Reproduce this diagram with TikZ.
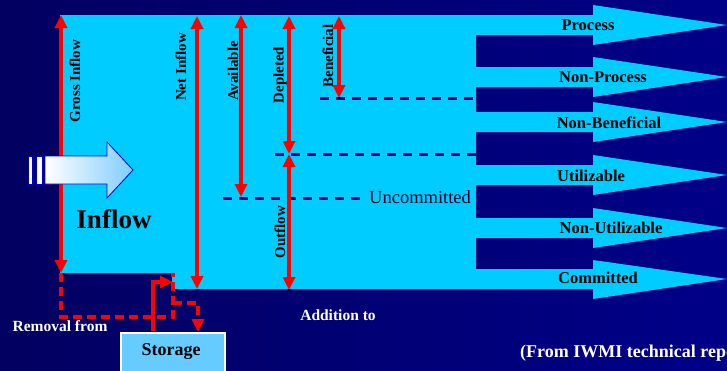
\documentclass[tikz,border=0pt]{standalone}
\usepackage{fontspec}
\setmainfont{Liberation Serif}
\usetikzlibrary{arrows.meta}
\definecolor{bgL}{RGB}{2,0,96}
\definecolor{bgR}{RGB}{0,0,136}
\definecolor{flow}{RGB}{0,204,255}
\definecolor{navyd}{RGB}{0,0,120}
\definecolor{stor}{RGB}{102,204,255}
\definecolor{arrowblue}{RGB}{128,204,255}
\definecolor{redl}{RGB}{255,0,0}
\definecolor{txtnavy}{RGB}{0,0,45}
\begin{document}
\begin{tikzpicture}[x=1pt,y=-1pt,
  tipr/.tip={Triangle[width=12pt,length=13pt]},
  redarr/.style={draw=redl, line width=3.5pt, tipr-tipr},
  redone/.style={draw=redl, line width=3.5pt, -tipr},
  reddash/.style={draw=redl, line width=3.5pt, dash pattern=on 9pt off 5pt},
  navydash/.style={draw=navyd, line width=3pt, dash pattern=on 9pt off 7pt},
  vlab/.style={rotate=90, font=\bfseries\fontsize{15}{15}\selectfont, text=black, inner sep=0pt},
  rlab/.style={font=\bfseries\fontsize{16.5}{17}\selectfont, text=black, inner sep=0pt},
  wlab/.style={font=\bfseries\fontsize{15.5}{16}\selectfont, text=white, inner sep=0pt},
]
\useasboundingbox (0,0) rectangle (727,370);
\clip (0,0) rectangle (727,370);
\fill[left color=bgL, right color=bgR] (0,0) rectangle (727,370);

% main flow shape
\fill[flow] (60,15) -- (593,15) -- (593,5) -- (727,25) -- (593,45) -- (593,35) -- (476,35)
  -- (476,67) -- (593,67) -- (593,57) -- (727,77) -- (593,97) -- (593,87) -- (476,87)
  -- (476,112) -- (593,112) -- (593,102) -- (727,122) -- (593,142) -- (593,132) -- (476,132)
  -- (476,165) -- (593,165) -- (593,155) -- (727,175) -- (593,195) -- (593,185) -- (476,185)
  -- (476,218) -- (593,218) -- (593,208) -- (727,228) -- (593,248) -- (593,238) -- (476,238)
  -- (476,269) -- (593,269) -- (593,260) -- (727,279) -- (593,299) -- (593,289)
  -- (172,289) -- (172,273) -- (60,273) -- cycle;

% coordinates
\coordinate (gT) at (61,15);   \coordinate (gB) at (61,273);
\coordinate (nT) at (197,16);  \coordinate (nB) at (197,289);
\coordinate (aT) at (241,15);  \coordinate (aB) at (241,197);
\coordinate (dT) at (289,16);  \coordinate (dB) at (289,154);
\coordinate (oB) at (289,290);
\coordinate (bT) at (339,16);  \coordinate (bB) at (339,98);
\coordinate (l1a) at (320,98);  \coordinate (l1b) at (476,98);
\coordinate (l2a) at (275,154); \coordinate (l2b) at (476,154);
\coordinate (l3a) at (223,198); \coordinate (l3b) at (360,198);

% navy dashed lines
\draw[navydash] (l1a) -- (l1b);
\draw[navydash] (l2a) -- (l2b);
\draw[navydash] (l3a) -- (l3b);

% storage box
\node[draw=white, line width=2pt, fill=stor, minimum width=104pt, minimum height=46pt, inner sep=0pt, anchor=north west] (storbox) at (120,332) {};
\node[font=\bfseries\fontsize{18}{18}\selectfont, text=black, inner sep=0pt] (storage) at (171,352) {Storage};

% red dimension arrows
\draw[redarr] (gT) -- (gB);
\draw[redarr] (nT) -- (nB);
\draw[redarr] (aT) -- (aB);
\draw[redarr] (dT) -- (dB);
\draw[redarr] (dB) -- (oB);
\draw[redarr] (bT) -- (bB);

% red dashed removal / addition paths
\coordinate (rc1) at (61,317); \coordinate (rc2) at (173,317); \coordinate (rc3) at (173,273);
\coordinate (ac1) at (173,303); \coordinate (ac2) at (198,303); \coordinate (ac3) at (198,332);
\draw[reddash] (gB) -- (rc1) -- (rc2) -- (rc3);
\draw[reddash, -tipr] (ac1) -- (ac2) -- (ac3);
\coordinate (sU) at (153,331); \coordinate (sC) at (153,282); \coordinate (sE) at (173,282);
\draw[redone] (sU) -- (sC) -- (sE);

% inflow block arrow
\draw[draw=blue!80!black, line width=0.8pt, fill=white] (28,156) rectangle (32,184);
\draw[draw=blue!80!black, line width=0.8pt, fill=white] (36,156) rectangle (42,184);
\draw[draw=blue!80!black, line width=0.8pt, left color=white, right color=arrowblue]
  (45,156) -- (107,156) -- (107,142) -- (133,170) -- (107,198) -- (107,184) -- (45,184) -- cycle;

% labels
\node[vlab] (lgross) at (75,81) {Gross Inflow};
\node[vlab] (lnet) at (181,67) {Net Inflow};
\node[vlab] (lavail) at (233,71) {Available};
\node[vlab] (ldepl) at (280,75) {Depleted};
\node[vlab] (lbenef) at (328,56) {Beneficial};
\node[vlab] (lout) at (280,232) {Outflow};

\node[rlab] (lproc) at (588,25) {Process};
\node[rlab] (lnproc) at (603,77) {Non-Process};
\node[rlab] (lnben) at (609,123) {Non-Beneficial};
\node[rlab] (lutil) at (591,176) {Utilizable};
\node[rlab] (lnutil) at (611,228) {Non-Utilizable};
\node[rlab] (lcomm) at (598,278) {Committed};

\node[font=\bfseries\fontsize{27}{27}\selectfont, text=black, inner sep=0pt] (linflow) at (114,219) {Inflow};
\node[font=\fontsize{18.5}{19}\selectfont, text=txtnavy, inner sep=0pt, anchor=west] (luncom) at (369,197) {Uncommitted};

\node[wlab] (lremov) at (60,326) {Removal from};
\node[wlab] (laddit) at (338,315) {Addition to};
\node[font=\bfseries\fontsize{18}{18}\selectfont, text=white, inner sep=0pt, anchor=west] (lsrc) at (520,353) {(From IWMI technical report)};
\end{tikzpicture}
\end{document}
